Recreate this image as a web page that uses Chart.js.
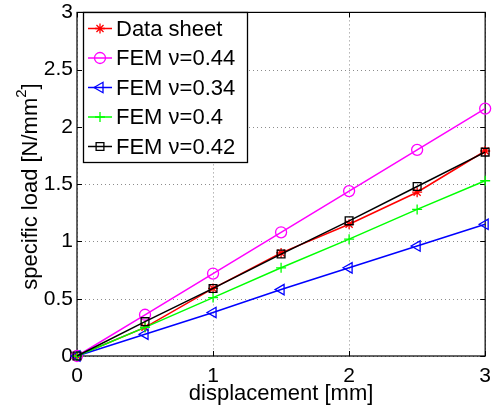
<!DOCTYPE html>
<html>
<head>
<meta charset="utf-8">
<script src="https://cdn.jsdelivr.net/npm/chart.js@4.4.1/dist/chart.umd.min.js"></script>
<style>
  html, body { margin: 0; padding: 0; background: #fff; }
  canvas { display: block; }
</style>
</head>
<body>
<canvas id="loadChart" width="501" height="411"></canvas>
<script>
// Datos
const displacement = [0, 0.5, 1, 1.5, 2, 2.5, 3];
const dataSheet = [0, 0.25, 0.59, 0.9, 1.15, 1.43, 1.79];
const fem044 = [0, 0.36, 0.72, 1.08, 1.44, 1.8, 2.16];
const fem034 = [0, 0.19, 0.38, 0.58, 0.77, 0.96, 1.15];
const fem040 = [0, 0.25, 0.51, 0.77, 1.02, 1.28, 1.53];
const fem042 = [0, 0.3, 0.59, 0.89, 1.18, 1.48, 1.78];
const xTicks = [0, 1, 2, 3];
const yTicks = [0, 0.5, 1, 1.5, 2, 2.5, 3];

const FONT = '"Liberation Sans", Arial, Helvetica, sans-serif';

function toPoints(values) {
    return values.map((v, i) => ({ x: displacement[i], y: v }));
}

function makeSeries(label, values, color, style, radius, order, rotation) {
    return {
        label: label,
        data: toPoints(values),
        borderColor: color,
        backgroundColor: 'rgba(0,0,0,0)',
        pointBorderColor: color,
        pointBackgroundColor: 'rgba(0,0,0,0)',
        pointStyle: style,
        pointRadius: radius,
        pointRotation: rotation || 0,
        pointBorderWidth: 1.3,
        borderWidth: 1.5,
        tension: 0,
        clip: false,
        order: order
    };
}

// Rejilla punteada, marco, marcas interiores, título Y y leyenda
const framePlugin = {
    id: 'frame',
    beforeDatasetsDraw(chart) {
        const { ctx, chartArea: a, scales } = chart;
        ctx.save();
        // rejilla
        ctx.strokeStyle = '#8c8c8c';
        ctx.lineWidth = 1;
        ctx.setLineDash([1, 3]);
        ctx.beginPath();
        xTicks.forEach(t => {
            const px = Math.round(scales.x.getPixelForValue(t)) + 0.5;
            ctx.moveTo(px, a.top); ctx.lineTo(px, a.bottom);
        });
        yTicks.forEach(t => {
            const py = Math.round(scales.y.getPixelForValue(t)) + 0.5;
            ctx.moveTo(a.left, py); ctx.lineTo(a.right, py);
        });
        ctx.stroke();
        ctx.setLineDash([]);
        // marco
        ctx.strokeStyle = '#000';
        ctx.lineWidth = 1.2;
        ctx.strokeRect(a.left, a.top, a.right - a.left, a.bottom - a.top);
        ctx.lineWidth = 1;
        ctx.beginPath();
        const len = 5;
        xTicks.forEach(t => {
            const px = Math.round(scales.x.getPixelForValue(t)) + 0.5;
            ctx.moveTo(px, a.bottom); ctx.lineTo(px, a.bottom - len);
            ctx.moveTo(px, a.top); ctx.lineTo(px, a.top + len);
        });
        yTicks.forEach(t => {
            const py = Math.round(scales.y.getPixelForValue(t)) + 0.5;
            ctx.moveTo(a.left, py); ctx.lineTo(a.left + len, py);
            ctx.moveTo(a.right, py); ctx.lineTo(a.right - len, py);
        });
        ctx.stroke();
        ctx.restore();
    },
    afterDatasetsDraw(chart) {
        const { ctx } = chart;
        // título del eje Y con superíndice
        ctx.save();
        ctx.translate(36.5, 186.5);
        ctx.rotate(-Math.PI / 2);
        ctx.fillStyle = '#000';
        ctx.textBaseline = 'alphabetic';
        ctx.textAlign = 'left';
        const mainFont = '22px ' + FONT;
        const supFont = '15px ' + FONT;
        const part1 = 'specific load [N/mm';
        const part2 = '2';
        const part3 = ']';
        ctx.font = mainFont;
        const w1 = ctx.measureText(part1).width;
        const w3 = ctx.measureText(part3).width;
        ctx.font = supFont;
        const w2 = ctx.measureText(part2).width;
        let x0 = -(w1 + w2 + w3) / 2;
        ctx.font = mainFont;
        ctx.fillText(part1, x0, 0);
        ctx.font = supFont;
        ctx.fillText(part2, x0 + w1, -11);
        ctx.font = mainFont;
        ctx.fillText(part3, x0 + w1 + w2, 0);
        ctx.restore();

        // leyenda
        const box = { x: 83.5, y: 12.5, w: 164, h: 150 };
        ctx.save();
        ctx.fillStyle = '#fff';
        ctx.fillRect(box.x, box.y, box.w, box.h);
        ctx.strokeStyle = '#000';
        ctx.lineWidth = 1.3;
        ctx.strokeRect(box.x, box.y, box.w, box.h);
        ctx.font = '22px ' + FONT;
        ctx.textBaseline = 'middle';
        ctx.textAlign = 'left';
        chart.data.datasets.forEach((ds, i) => {
            const cy = 28.5 + i * 29.5;
            ctx.strokeStyle = ds.borderColor;
            ctx.lineWidth = ds.borderWidth;
            ctx.beginPath();
            ctx.moveTo(88, cy);
            ctx.lineTo(112, cy);
            ctx.stroke();
            ctx.lineWidth = ds.pointBorderWidth;
            ctx.fillStyle = 'rgba(0,0,0,0)';
            Chart.helpers.drawPoint(ctx, {
                pointStyle: ds.pointStyle,
                rotation: ds.pointRotation,
                radius: ds.pointRadius,
                borderWidth: ds.pointBorderWidth
            }, 100, cy);
            ctx.fillStyle = '#000';
            ctx.fillText(ds.label, 116, cy + 1);
        });
        ctx.restore();
    }
};

document.addEventListener('DOMContentLoaded', function() {
    const ctx = document.getElementById('loadChart').getContext('2d');
    new Chart(ctx, {
        type: 'line',
        data: {
            datasets: [
                makeSeries('Data sheet', dataSheet, '#ff0000', 'star', 5, 5),
                makeSeries('FEM ν=0.44', fem044, '#ff00ff', 'circle', 5.5, 4),
                makeSeries('FEM ν=0.34', fem034, '#0000ff', 'triangle', 6, 3, -90),
                makeSeries('FEM ν=0.4', fem040, '#00ff00', 'cross', 5, 2),
                makeSeries('FEM ν=0.42', fem042, '#000000', 'rect', 5.5, 1)
            ]
        },
        options: {
            responsive: false,
            devicePixelRatio: 1,
            animation: false,
            layout: {
                padding: { top: 9, right: 15, left: 0, bottom: 0 }
            },
            plugins: {
                legend: { display: false },
                tooltip: { enabled: false }
            },
            scales: {
                x: {
                    type: 'linear',
                    min: 0,
                    max: 3,
                    afterBuildTicks: scale => { scale.ticks = xTicks.map(v => ({ value: v })); },
                    afterFit: scale => { scale.height = 55; },
                    grid: { display: false, drawTicks: false },
                    border: { display: false },
                    ticks: {
                        color: '#000',
                        padding: 10,
                        maxRotation: 0,
                        callback: v => String(v),
                        font: { family: FONT, size: 21, lineHeight: 1 }
                    },
                    title: {
                        display: true,
                        text: 'displacement [mm]',
                        color: '#000',
                        padding: { top: 0, bottom: 4 },
                        font: { family: FONT, size: 22 }
                    }
                },
                y: {
                    type: 'linear',
                    min: 0,
                    max: 3,
                    afterBuildTicks: scale => { scale.ticks = yTicks.map(v => ({ value: v })); },
                    afterFit: scale => { scale.width = 77; },
                    grid: { display: false, drawTicks: false },
                    border: { display: false },
                    ticks: {
                        color: '#000',
                        padding: 4,
                        callback: v => String(v),
                        font: { family: FONT, size: 21, lineHeight: 0.8 }
                    },
                    title: { display: false }
                }
            }
        },
        plugins: [framePlugin]
    });
});
</script>
</body>
</html>
